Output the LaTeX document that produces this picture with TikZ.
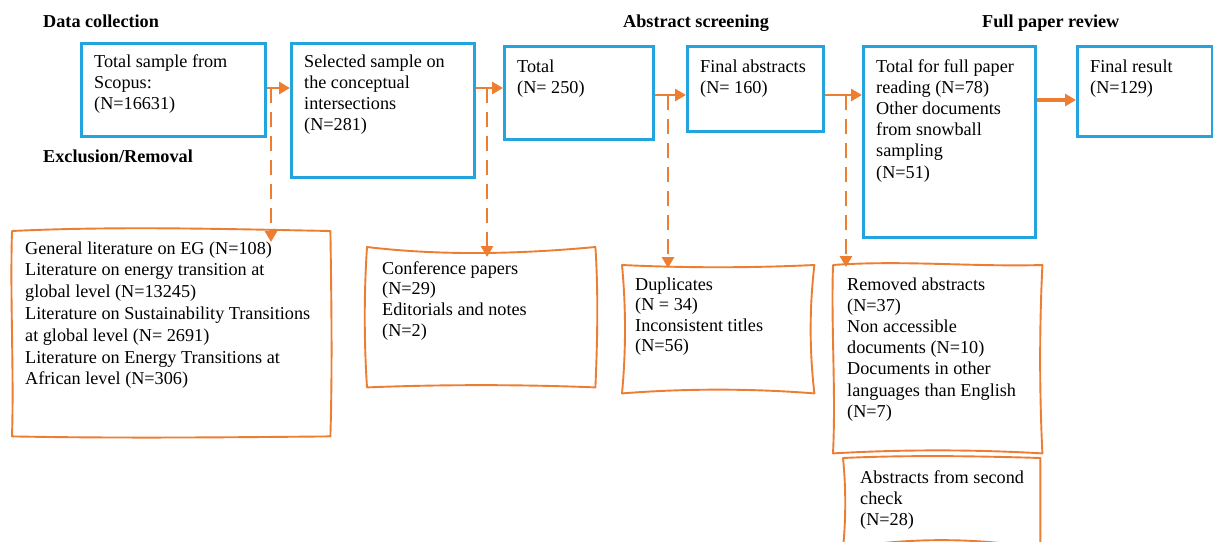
\documentclass[tikz,border=0pt]{standalone}
\usepackage{fontspec}
\setmainfont{Liberation Serif}
\usetikzlibrary{arrows.meta,calc}
\definecolor{myblue}{RGB}{35,164,222}
\definecolor{myorange}{RGB}{237,125,49}
\newcommand\mylines[1]{\parbox[t]{330pt}{#1}}
\newcommand\wavyframe[9]{%
 \draw[wav] (#1.north west)
  .. controls ($(#1.north west)!0.33!(#1.north east)+(0,#2)$) and ($(#1.north west)!0.67!(#1.north east)+(0,#3)$) .. (#1.north east)
  .. controls ($(#1.north east)!0.33!(#1.south east)+(#4,0)$) and ($(#1.north east)!0.67!(#1.south east)+(#5,0)$) .. (#1.south east)
  .. controls ($(#1.south east)!0.33!(#1.south west)+(0,#6)$) and ($(#1.south east)!0.67!(#1.south west)+(0,#7)$) .. (#1.south west)
  .. controls ($(#1.south west)!0.33!(#1.north west)+(#8,0)$) and ($(#1.south west)!0.67!(#1.north west)+(#9,0)$) .. cycle;}
\tikzset{
 txt/.style={inner sep=0pt, anchor=base west, font=\fontsize{18.2}{21.2}\selectfont},
 head/.style={txt, font=\fontsize{18.2}{21.2}\selectfont\bfseries},
 bbox/.style={draw=myblue, line width=2.8pt, anchor=north west, inner sep=0pt},
 frm/.style={draw=none, anchor=north west, inner sep=0pt},
 wav/.style={draw=myorange, line width=1.9pt, line join=round},
 harr/.style={draw=myorange, line width=2.8pt, -{Triangle[length=11pt,width=12pt]}},
 darr/.style={draw=myorange, line width=2.8pt, dash pattern=on 15pt off 9pt, -{Triangle[length=11pt,width=12pt]}},
}
\begin{document}
\begin{tikzpicture}[x=1pt,y=-1pt]
\useasboundingbox (0,0) rectangle (1213,541);
\clip (0,0) rectangle (1213,541);
\fill[white] (0,0) rectangle (1213,541);
% headings
\node[head] (h1) at (43,27) {Data collection};
\node[head] (h2) at (43,162) {Exclusion/Removal};
\node[head] (h3) at (623,27) {Abstract screening};
\node[head] (h4) at (982,27) {Full paper review};
% blue boxes
\node[bbox, minimum width=184pt, minimum height=93pt] (b1) at (80,42) {};
\node[bbox, minimum width=183pt, minimum height=134pt] (b2) at (290,42) {};
\node[bbox, minimum width=149pt, minimum height=93pt] (b3) at (503,45) {};
\node[bbox, minimum width=136pt, minimum height=85pt] (b4) at (686,45) {};
\node[bbox, minimum width=172pt, minimum height=191pt] (b5) at (862,45) {};
\node[bbox, minimum width=135pt, minimum height=90pt] (b6) at (1076,45) {};
\node[txt] (b1t) at (94,67) {\mylines{Total sample from\\Scopus:\\(N=16631)}};
\node[txt] (b2t) at (304,67) {\mylines{Selected sample on\\the conceptual\\intersections\\(N=281)}};
\node[txt] (b3t) at (517,72) {\mylines{Total\\(N= 250)}};
\node[txt] (b4t) at (700,72) {\mylines{Final abstracts\\(N= 160)}};
\node[txt] (b5t) at (876,72) {\mylines{Total for full paper\\reading (N=78)\\Other documents\\from snowball\\sampling\\(N=51)}};
\node[txt] (b6t) at (1090,72) {\mylines{Final result\\(N=129)}};
% wavy frames
\node[frm, minimum width=318pt, minimum height=205pt] (fA) at (12,231) {};
\node[frm, minimum width=228pt, minimum height=140pt] (fB) at (367,247) {};
\node[frm, minimum width=192pt, minimum height=128pt] (fC) at (622,265) {};
\node[frm, minimum width=209pt, minimum height=188pt] (fD) at (833,265) {};
\node[frm, minimum width=197pt, minimum height=90pt] (fE) at (843,458) {};
\wavyframe{fA}{-5}{-2}{1}{2}{1}{2}{2}{-2}
\wavyframe{fB}{9}{7}{3}{2}{-3}{-3}{-3}{-3}
\wavyframe{fC}{3}{3}{-5}{-5}{-5}{-5}{4}{4}
\wavyframe{fD}{-5}{2}{-3}{-3}{-4}{-4}{3}{-2}
\wavyframe{fE}{-3}{-2}{0}{0}{-11}{-11}{3}{3}
\node[txt, font=\fontsize{18.2}{21.8}\selectfont] (At) at (25,254) {\mylines{General literature on EG (N=108)\\Literature on energy transition at\\global level (N=13245)\\Literature on Sustainability Transitions\\at global level (N= 2691)\\Literature on Energy Transitions at\\African level (N=306)}};
\node[txt, font=\fontsize{18.2}{20.7}\selectfont] (Bt) at (382,274) {\mylines{Conference papers\\(N=29)\\Editorials and notes\\(N=2)}};
\node[txt, font=\fontsize{18.2}{20.5}\selectfont] (Ct) at (635,290) {\mylines{Duplicates\\(N = 34)\\Inconsistent titles\\(N=56)}};
\node[txt] (Dt) at (847,290) {\mylines{Removed abstracts\\(N=37)\\Non accessible\\documents (N=10)\\Documents in other\\languages than English\\(N=7)}};
\node[txt] (Et) at (860,483) {\mylines{Abstracts from second\\check\\(N=28)}};
% junctions
\coordinate (j1) at (271,88);
\coordinate (j2) at (487,88);
\coordinate (j3) at (668,95);
\coordinate (j4) at (846,95);
\coordinate (j5) at (1050,100);
\coordinate (eA) at (271,242);
\coordinate (eB) at (487,257);
\coordinate (eC) at (668,268);
\coordinate (eD) at (846,267);
% connectors
\draw[harr] (b1.east |- j1) -- (b2.west |- j1);
\draw[harr] (b2.east |- j2) -- (b3.west |- j2);
\draw[harr] (b3.east |- j3) -- (b4.west |- j3);
\draw[harr] (b4.east |- j4) -- (b5.west |- j4);
\draw[harr, line width=3.2pt] (b5.east |- j5) -- (b6.west |- j5);
\draw[darr] (j1) -- (eA);
\draw[darr] (j2) -- (eB);
\draw[darr] (j3) -- (eC);
\draw[darr] (j4) -- (eD);
\end{tikzpicture}
\end{document}
